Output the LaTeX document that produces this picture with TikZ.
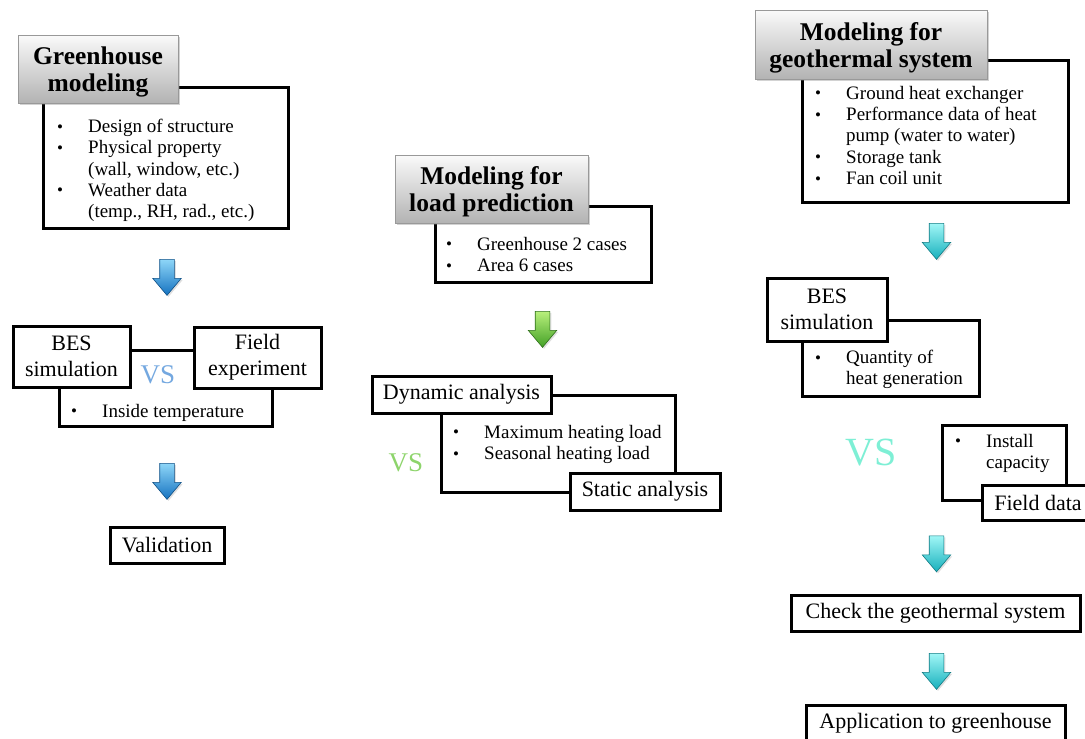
\documentclass[tikz,border=0pt]{standalone}
\usepackage{fontspec}
\setmainfont{Liberation Serif}
\usepackage{tikz}
\usetikzlibrary{shapes.arrows,shadows}

\definecolor{vsblue}{HTML}{74A8E0}
\definecolor{vsgreen}{HTML}{8DD46B}
\definecolor{vsaqua}{HTML}{7EEFD5}
\definecolor{bluetop}{HTML}{8ED6F8}
\definecolor{bluebot}{HTML}{1572C0}
\definecolor{greentop}{HTML}{B8F07C}
\definecolor{greenbot}{HTML}{43A026}
\definecolor{cyantop}{HTML}{A0F6F6}
\definecolor{cyanbot}{HTML}{17B0BC}

\newcommand{\bl}{\makebox[31pt][l]{\fontsize{17}{17}\selectfont\raisebox{.5pt}{\textbullet}}}
\newcommand{\nb}{\makebox[31pt][l]{}}

\begin{document}
\begin{tikzpicture}[x=1pt,y=-1pt,
  head/.style={draw=gray!80,top color=gray!4,bottom color=gray!60,
    drop shadow={opacity=.35,shadow xshift=2pt,shadow yshift=-2pt},inner sep=0pt},
  title/.style={font=\bfseries\fontsize{25.5}{27}\selectfont,align=center,
    inner sep=0pt,yshift=-3pt},
  listbox/.style={draw,line width=3pt,fill=white,inner sep=0pt},
  box/.style={draw,line width=3pt,fill=white,font=\fontsize{22}{26}\selectfont,
    align=center,inner sep=0pt},
  items/.style={anchor=north west,inner sep=0pt,align=left,
    font=\fontsize{19}{21.3}\selectfont},
  vs/.style={font=\fontsize{27}{27}\selectfont,inner sep=0pt},
  down/.style 2 args={single arrow,shape border rotate=270,minimum height=36pt,
    inner sep=7pt,single arrow head extend=7pt,single arrow tip angle=80,
    draw=#2!70!black,line width=.6pt,top color=#1,bottom color=#2,
    drop shadow={opacity=.25,shadow xshift=1.5pt,shadow yshift=-1.5pt}}
]
\useasboundingbox (0,0) rectangle (1085,739);
\clip (0,0) rectangle (1085,739);

% greenhouse modeling
\node[listbox,minimum width=245pt,minimum height=141pt] (gh_list) at (165.5,157.5) {};
\node[head,minimum width=160pt,minimum height=68pt] (gh_head) at (98,69) {};
\node[title] (gh_title) at (gh_head.center) {Greenhouse\\modeling};
\node[items] (gh_items) at (57,119) {\bl Design of structure\\\bl Physical property\\\nb (wall, window, etc.)\\\bl Weather data\\\nb (temp., RH, rad., etc.)};
\node[down={bluetop}{bluebot}] (arr1) at (167,273) {};

\node[listbox,minimum width=213pt,minimum height=76pt] (temp_box) at (165.5,388) {};
\node[box,minimum width=117pt,minimum height=61pt] (bes1) at (71.5,356.5) {BES\\simulation};
\node[box,minimum width=127pt,minimum height=61pt] (field1) at (257.5,357.5) {Field\\experiment};
\node[items] (temp_items) at (71,404) {\bl Inside temperature};
\node[vs,text=vsblue] (vs1) at (158,375) {VS};
\node[down={bluetop}{bluebot}] (arr2) at (167,477) {};
\node[box,minimum width=114pt,minimum height=36pt] (valid) at (167,545) {Validation};

% load prediction
\node[listbox,minimum width=216pt,minimum height=76pt] (lp_list) at (543,244) {};
\node[head,minimum width=193pt,minimum height=68pt] (lp_head) at (491.5,189) {};
\node[title] (lp_title) at (lp_head.center) {Modeling for\\load prediction};
\node[items] (lp_items) at (446,237) {\bl Greenhouse 2 cases\\\bl Area 6 cases};
\node[down={greentop}{greenbot}] (arr3) at (542.5,325) {};

\node[listbox,minimum width=234pt,minimum height=97pt] (load_box) at (558,443.5) {};
\node[box,minimum width=179pt,minimum height=37pt] (dyn) at (461.5,394.5) {Dynamic analysis};
\node[box,minimum width=150pt,minimum height=37pt] (static) at (645,491.5) {Static analysis};
\node[items] (load_items) at (453,425) {\bl Maximum heating load\\\bl Seasonal heating load};
\node[vs,text=vsgreen] (vs2) at (406,463) {VS};

% geothermal system
\node[listbox,minimum width=266pt,minimum height=142pt] (gt_list) at (935,131) {};
\node[head,minimum width=232pt,minimum height=69pt] (gt_head) at (871,44.5) {};
\node[title] (gt_title) at (gt_head.center) {Modeling for\\geothermal system};
\node[items] (gt_items) at (815,86) {\bl Ground heat exchanger\\\bl Performance data of heat\\\nb pump (water to water)\\\bl Storage tank\\\bl Fan coil unit};
\node[down={cyantop}{cyanbot}] (arr4) at (936.5,237) {};

\node[listbox,minimum width=177pt,minimum height=76pt] (heat_box) at (890.5,358) {};
\node[box,minimum width=120pt,minimum height=63pt] (bes2) at (827,309.5) {BES\\simulation};
\node[items] (heat_items) at (815,350) {\bl Quantity of\\\nb heat generation};
\node[vs,text=vsaqua,font=\fontsize{40}{40}\selectfont] (vs3) at (871,453) {VS};
\node[listbox,minimum width=124pt,minimum height=75pt] (cap_box) at (1004,462.5) {};
\node[items] (cap_items) at (955,434) {\bl Install\\\nb capacity};
\node[box,minimum width=112pt,minimum height=35pt] (fdata) at (1038,502.5) {Field data};
\node[down={cyantop}{cyanbot}] (arr5) at (936.5,549.5) {};
\node[box,minimum width=289pt,minimum height=36pt] (check) at (935.5,613) {Check the geothermal system};
\node[down={cyantop}{cyanbot}] (arr6) at (936.5,667) {};
\node[box,minimum width=259pt,minimum height=37pt] (apply) at (935.5,723.5) {Application to greenhouse};
\end{tikzpicture}
\end{document}
